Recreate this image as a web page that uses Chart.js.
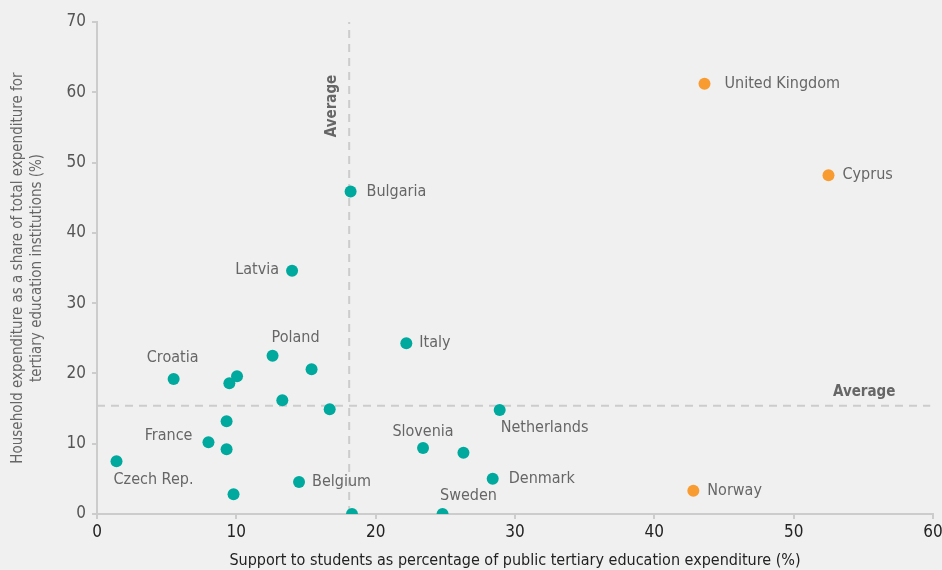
<!DOCTYPE html>
<html>
<head>
<meta charset="utf-8">
<script src="https://cdn.jsdelivr.net/npm/chart.js@4/dist/chart.umd.min.js"></script>
<style>
html,body{margin:0;padding:0;background:#f0f0f0;}
#wrap{width:942px;height:570px;position:relative;}
</style>
</head>
<body>
<div id="wrap"><canvas id="c" width="942" height="570"></canvas></div>
<script>
// ---- data ----
const countries = ["United Kingdom","Cyprus","Norway","Bulgaria","Latvia","Italy","Poland","","Croatia","","","","","Netherlands","","France","","Slovenia","","Czech Rep.","Denmark","Belgium","","","Sweden"];
const supportX   = [43.6,52.5,42.8,18.2,14.0,22.2,12.6,15.4,5.5,10.05,9.5,13.3,16.7,28.9,9.3,8.0,9.3,23.4,26.3,1.4,28.4,14.5,9.8,18.3,24.8];
const householdY = [61.2,48.2,3.3,45.9,34.6,24.3,22.5,20.6,19.2,19.6,18.6,16.2,14.9,14.8,13.2,10.2,9.2,9.4,8.7,7.5,5.0,4.55,2.8,0.0,0.0];
const highlight  = [true,true,true,false,false,false,false,false,false,false,false,false,false,false,false,false,false,false,false,false,false,false,false,false,false];
const averageX = 18.1;
const averageY = 15.4;
const xTicks = [0,10,20,30,40,50,60];
const yTicks = [0,10,20,30,40,50,60,70];

// ---- label placement (layout only) ----
const place = {
  "United Kingdom":{dx:20,dy:0,align:"left"},
  "Cyprus":{dx:14,dy:0,align:"left"},
  "Norway":{dx:14,dy:0,align:"left"},
  "Bulgaria":{dx:16,dy:0,align:"left"},
  "Latvia":{dx:-13,dy:-1,align:"right"},
  "Italy":{dx:13,dy:0,align:"left"},
  "Poland":{dx:23,dy:-18,align:"center"},
  "Croatia":{dx:-1,dy:-21,align:"center"},
  "Netherlands":{dx:1,dy:18,align:"left"},
  "France":{dx:-16,dy:-6,align:"right"},
  "Slovenia":{dx:0,dy:-16,align:"center"},
  "Czech Rep.":{dx:37,dy:19,align:"center"},
  "Denmark":{dx:16,dy:0,align:"left"},
  "Belgium":{dx:13,dy:0,align:"left"},
  "Sweden":{dx:26,dy:-18,align:"center"}
};

const FONT = "'Liberation Sans Narrow','DejaVu Sans Condensed','Roboto',sans-serif";
const TEAL = "#00a99d", ORANGE = "#f89c32", LINE = "#cccccc";

const pts = supportX.map((x,i)=>({x:x,y:householdY[i]}));

const labelPlugin = {
  id:"labels",
  afterDatasetsDraw(chart){
    const ctx = chart.ctx;
    const meta = chart.getDatasetMeta(2);
    ctx.save();
    ctx.font = "16px " + FONT;
    ctx.fillStyle = "#666666";
    ctx.textBaseline = "middle";
    meta.data.forEach((el,i)=>{
      const name = countries[i];
      if(!name) return;
      const p = place[name];
      ctx.textAlign = p.align;
      ctx.fillText(name, el.x + p.dx, el.y + p.dy);
    });
    // average labels
    const xs = chart.scales.x, ys = chart.scales.y;
    ctx.font = "bold 15px " + FONT;
    ctx.fillStyle = "#666666";
    ctx.textAlign = "left";
    ctx.fillText("Average", 833, ys.getPixelForValue(averageY) - 14);
    ctx.translate(xs.getPixelForValue(averageX) - 17, 106);
    ctx.rotate(-Math.PI/2);
    ctx.textAlign = "center";
    ctx.fillText("Average", 0, 0);
    ctx.restore();
  }
};

new Chart(document.getElementById("c"), {
  type:"scatter",
  data:{
    datasets:[
      {data:[{x:averageX,y:0},{x:averageX,y:70.3}], showLine:true, borderColor:LINE, borderWidth:2, borderDash:[8,6], pointRadius:0, order:2},
      {data:[{x:0,y:averageY},{x:59.8,y:averageY}], showLine:true, borderColor:LINE, borderWidth:2, borderDash:[8,6], pointRadius:0, order:2},
      {data:pts, pointRadius:6, pointHoverRadius:6, borderWidth:0,
       pointBackgroundColor: highlight.map(h=>h?ORANGE:TEAL), order:1}
    ]
  },
  options:{
    responsive:false,
    animation:false,
    events:[],
    layout:{padding:{top:22,right:9,left:0,bottom:0}},
    plugins:{legend:{display:false},tooltip:{enabled:false}},
    scales:{
      x:{
        type:"linear", min:0, max:60,
        afterBuildTicks(s){ s.ticks = xTicks.map(v=>({value:v})); },
        afterFit(s){ s.height = 56; s.paddingRight = 0; s.paddingLeft = 0; },
        border:{color:LINE,width:2},
        grid:{drawOnChartArea:false, drawTicks:true, tickLength:5, color:LINE, lineWidth:2},
        ticks:{color:"#222222", font:{family:FONT,size:17}, padding:3},
        title:{display:true, text:"Support to students as percentage of public tertiary education expenditure (%)",
               color:"#222222", font:{family:FONT,size:16}, padding:{top:2,bottom:0}}
      },
      y:{
        type:"linear", min:0, max:70,
        afterBuildTicks(s){ s.ticks = yTicks.map(v=>({value:v})); },
        afterFit(s){ s.width = 97; s.paddingTop = 0; s.paddingBottom = 0; },
        border:{color:LINE,width:2},
        grid:{drawOnChartArea:false, drawTicks:true, tickLength:5, color:LINE, lineWidth:2},
        ticks:{color:"#555555", font:{family:FONT,size:17}, padding:6},
        title:{display:true, text:["Household expenditure as a share of total expenditure for","tertiary education institutions (%)"],
               color:"#666666", font:{family:FONT,size:15,lineHeight:1.3}, padding:{top:8,bottom:0}}
      }
    }
  },
  plugins:[labelPlugin]
});
</script>
</body>
</html>
